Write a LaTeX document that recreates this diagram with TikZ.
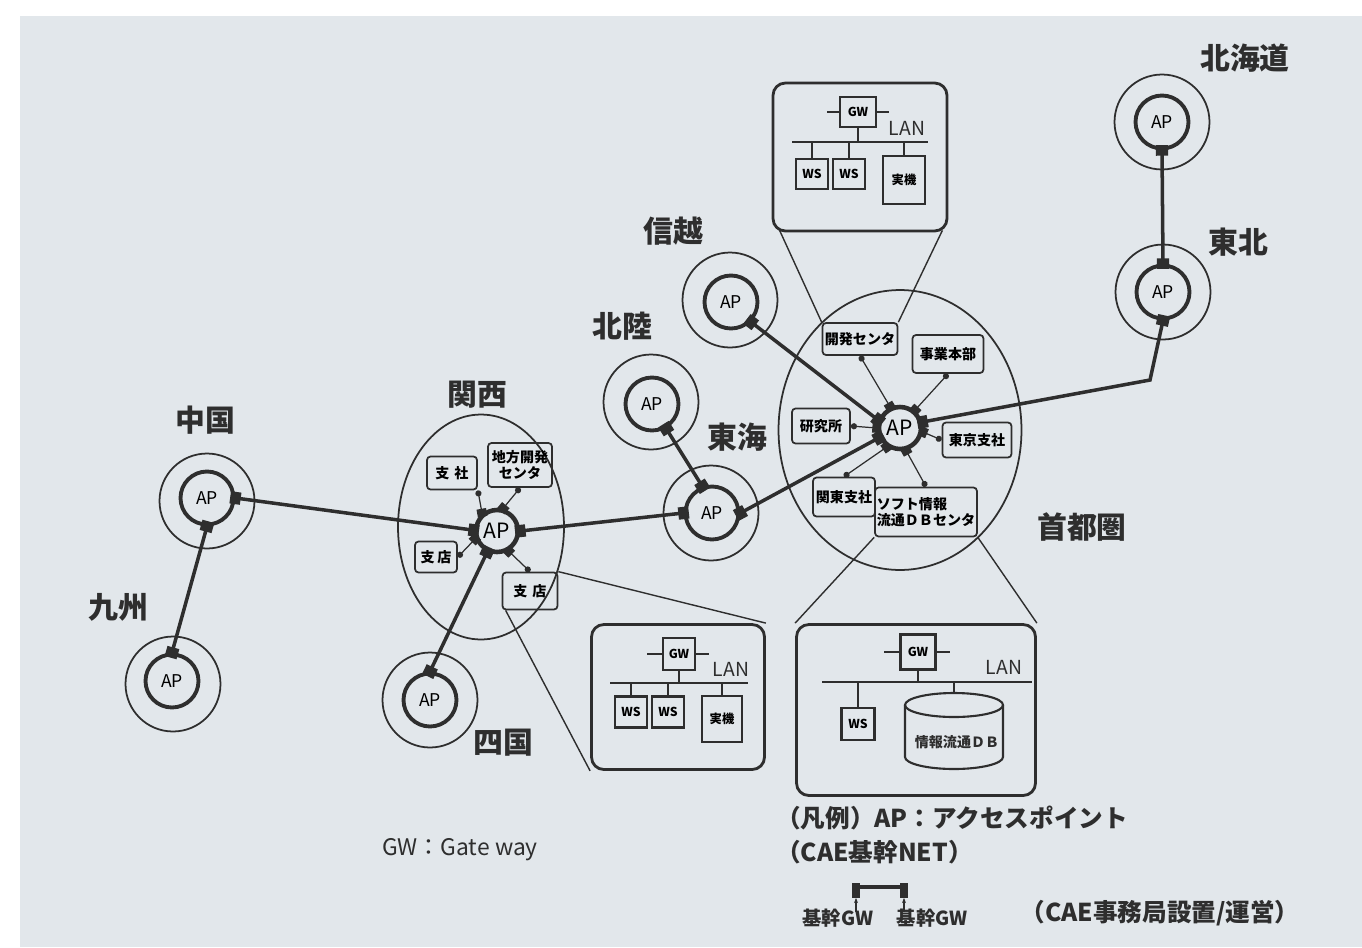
\documentclass[tikz,border=0pt]{standalone}
\usepackage{fontspec}
\setmainfont{Noto Sans CJK JP}
\usetikzlibrary{shapes.geometric, arrows.meta, positioning, calc}
\definecolor{paper}{HTML}{E2E7EB}
\definecolor{inkgray}{HTML}{2E2E2E}

\begin{document}
\begin{tikzpicture}[
  x=0.02cm, y=-0.02cm,
  zone/.style={circle, draw=inkgray, line width=1pt, minimum size=1.9cm, inner sep=0pt},
  apnode/.style={circle, draw=inkgray, line width=2.2pt, minimum size=1.06cm,
                 inner sep=0pt, font=\fontsize{10}{12}\selectfont},
  hubap/.style={circle, draw=inkgray, line width=2.6pt, minimum size=0.84cm,
                inner sep=0pt, font=\fontsize{12}{14}\selectfont},
  area/.style={ellipse, draw=inkgray, line width=1pt, inner sep=0pt},
  region/.style={font=\bfseries\fontsize{17}{19}\selectfont, text=inkgray},
  site/.style={draw=inkgray, rounded corners=2pt, line width=1pt, inner sep=1pt,
               font=\bfseries\fontsize{8}{9.5}\selectfont, align=center},
  link/.style={inkgray, line width=2pt,
               {Square[length=6pt,width=7pt]}-{Square[length=6pt,width=7pt]},
               shorten <=-3pt, shorten >=-3pt},
  tap/.style={inkgray, line width=0.7pt,
              {Square[length=4.5pt,width=5.5pt]}-{Circle[length=3.5pt]}, shorten <=-2pt},
  zoomline/.style={inkgray, line width=0.8pt},
  lanbox/.style={draw=inkgray, rounded corners=7pt, line width=1.6pt, inner sep=0pt},
  unit/.style={draw=inkgray, line width=1.2pt, inner sep=0pt,
               font=\bfseries\fontsize{7}{8}\selectfont},
  bus/.style={inkgray, line width=1.6pt},
  drop/.style={inkgray, line width=0.9pt},
  note/.style={font=\bfseries\fontsize{14}{16}\selectfont, text=inkgray},
]
  % paper
  \fill[white] (0,0) rectangle (1362,947);
  \fill[paper] (20,16) rectangle (1362,947);
  \useasboundingbox (0,0) rectangle (1362,947);

  % regional access points
  \node[zone]   (hokkaido)   at (1162,122) {};
  \node[apnode] (hokkaidoap) at (1162,122) {AP};
  \node[region] (hokkaidolbl) at (1245,58) {北海道};

  \node[zone]   (tohoku)   at (1163,292) {};
  \node[apnode] (tohokuap) at (1163,292) {AP};
  \node[region] (tohokulbl) at (1238,242) {東北};

  \node[zone]   (shinetsu)   at (730,300) {};
  \node[apnode] (shinetsuap) at (731,302) {AP};
  \node[region] (shinetsulbl) at (673,231) {信越};

  \node[zone]   (hokuriku)   at (651,402) {};
  \node[apnode] (hokurikuap) at (652,404) {AP};
  \node[region] (hokurikulbl) at (622,326) {北陸};

  \node[zone]   (tokai)   at (711,513) {};
  \node[apnode] (tokaiap) at (712,513) {AP};
  \node[region] (tokailbl) at (737,437) {東海};

  \node[zone]   (chugoku)   at (207,501) {};
  \node[apnode] (chugokuap) at (207,498) {AP};
  \node[region] (chugokulbl) at (205,420) {中国};

  \node[zone]   (kyushu)   at (173,684) {};
  \node[apnode] (kyushuap) at (172,681) {AP};
  \node[region] (kyushulbl) at (118,607) {九州};

  \node[zone]   (shikoku)   at (430,700) {};
  \node[apnode] (shikokuap) at (430,700) {AP};
  \node[region] (shikokulbl) at (503,743) {四国};

  % 首都圏
  \node[area, minimum width=4.86cm, minimum height=5.6cm] (shuto) at (900,430) {};
  \node[hubap] (shutoap) at (900,428) {AP};
  \node[region] (shutolbl) at (1082,527) {首都圏};
  \node[site, minimum width=1.5cm, minimum height=0.64cm]  (kaihatsu) at (860,339) {開発センタ};
  \node[site, minimum width=1.42cm, minimum height=0.76cm] (jigyo)    at (948,354) {事業本部};
  \node[site, minimum width=1.16cm, minimum height=0.7cm]  (kenkyu)   at (821,426) {研究所};
  \node[site, minimum width=1.38cm, minimum height=0.7cm]  (tokyo)    at (977,440) {東京支社};
  \node[site, minimum width=1.24cm, minimum height=0.78cm] (kanto)    at (844,497) {関東支社};
  \node[site, minimum width=1.74cm, minimum height=0.98cm, align=left] (soft) at (926,512)
    {ソフト情報\\流通ＤＢセンタ};
  \draw[tap] (shutoap.115) -- (kaihatsu.south);
  \draw[tap] (shutoap.50)  -- (jigyo.south);
  \draw[tap] (shutoap.180) -- (kenkyu.east);
  \draw[tap] (shutoap.350) -- (tokyo.west);
  \draw[tap] (shutoap.235) -- (kanto.north);
  \draw[tap] (shutoap.285) -- (soft.north);

  % 関西
  \node[area, minimum width=3.32cm, minimum height=4.5cm] (kansai) at (481,527) {};
  \node[hubap] (kansaiap) at (497,531) {AP};
  \node[region] (kansailbl) at (477,395) {関西};
  \node[site, minimum width=1.0cm, minimum height=0.66cm]  (shisha) at (452,473) {支\hspace{0.35em}社};
  \node[site, minimum width=1.28cm, minimum height=0.88cm] (chiho)  at (520,465) {地方開発\\センタ};
  \node[site, minimum width=0.84cm, minimum height=0.62cm] (shitenl) at (436,557) {支\hspace{0.2em}店};
  \node[site, minimum width=1.1cm, minimum height=0.74cm]  (shitenr) at (530,591) {支\hspace{0.35em}店};
  \draw[tap] (kansaiap.130) -- (shisha.south east);
  \draw[tap] (kansaiap.75)  -- (chiho.south);
  \draw[tap] (kansaiap.200) -- (shitenl.east);
  \draw[tap] (kansaiap.300) -- (shitenr.north);

  % backbone
  \coordinate (tohokubend) at (1150,380);
  \draw[link] (hokkaidoap.south) -- (tohokuap.north);
  \draw[link] (tohokuap.south) -- (tohokubend) -- (shutoap.15);
  \draw[link] (shinetsuap.-45) -- (shutoap.160);
  \draw[link] (tokaiap.east) -- (shutoap.205);
  \draw[link] (hokurikuap.-60) -- (tokaiap.110);
  \draw[link] (kansaiap.east) -- (tokaiap.west);
  \draw[link] (chugokuap.east) -- (kansaiap.178);
  \draw[link] (chugokuap.south) -- (kyushuap.north);
  \draw[link] (kansaiap.245) -- (shikokuap.north);

  % LAN of 開発センタ
  \node[lanbox, minimum width=3.48cm, minimum height=2.96cm] (lantop) at (860,157) {};
  \node[unit, minimum width=0.72cm, minimum height=0.6cm] (gwtop) at (858,112) {GW};
  \draw[drop] (gwtop.west) -- ++(-12,0);
  \draw[drop] (gwtop.east) -- ++(12,0);
  \coordinate (bustopl) at (792,142);
  \coordinate (bustopr) at (928,142);
  \draw[bus] (bustopl) -- (bustopr);
  \node[font=\fontsize{11}{12}\selectfont, text=inkgray] (lantoplbl) at (907,128) {LAN};
  \node[unit, minimum width=0.64cm, minimum height=0.6cm]  (wstopa) at (812,174) {WS};
  \node[unit, minimum width=0.64cm, minimum height=0.6cm]  (wstopb) at (849,174) {WS};
  \node[unit, minimum width=0.84cm, minimum height=0.96cm] (jikitop) at (904,180) {実機};
  \draw[drop] (gwtop.south) -- (gwtop.south |- bustopl);
  \draw[drop] (wstopa.north) -- (wstopa.north |- bustopl);
  \draw[drop] (wstopb.north) -- (wstopb.north |- bustopl);
  \draw[drop] (jikitop.north) -- (jikitop.north |- bustopl);
  \draw[zoomline] (lantop.south west) ++(8,-2) -- (kaihatsu.north west);
  \draw[zoomline] (lantop.south east) ++(-6,-2) -- (kaihatsu.north east);

  % LAN of 支店
  \node[lanbox, minimum width=3.46cm, minimum height=2.9cm] (lanmid) at (678,697) {};
  \node[unit, minimum size=0.64cm] (gwmid) at (679,654) {GW};
  \draw[drop] (gwmid.west) -- ++(-15,0);
  \draw[drop] (gwmid.east) -- ++(13,0);
  \coordinate (busmidl) at (610,683);
  \coordinate (busmidr) at (748,683);
  \draw[bus] (busmidl) -- (busmidr);
  \node[font=\fontsize{11}{12}\selectfont, text=inkgray] (lanmidlbl) at (731,669) {LAN};
  \node[unit, minimum width=0.64cm, minimum height=0.62cm] (wsmida) at (631,712) {WS};
  \node[unit, minimum width=0.64cm, minimum height=0.62cm] (wsmidb) at (668,712) {WS};
  \node[unit, minimum width=0.8cm, minimum height=0.92cm]  (jikimid) at (722,719) {実機};
  \draw[drop] (gwmid.south) -- (gwmid.south |- busmidl);
  \draw[drop] (wsmida.north) -- (wsmida.north |- busmidl);
  \draw[drop] (wsmidb.north) -- (wsmidb.north |- busmidl);
  \draw[drop] (jikimid.north) -- (jikimid.north |- busmidl);
  \draw[zoomline] (shitenr.south west) ++(4,0) -- (lanmid.south west);
  \draw[zoomline] (shitenr.north east) -- (lanmid.north east);

  % LAN of ソフト情報流通DBセンタ
  \node[lanbox, minimum width=4.78cm, minimum height=3.42cm] (lanright) at (916,710) {};
  \node[unit, minimum size=0.7cm] (gwright) at (918,652) {GW};
  \draw[drop] (gwright.west) -- ++(-15,0);
  \draw[drop] (gwright.east) -- ++(13,0);
  \coordinate (busrightl) at (822,682);
  \coordinate (busrightr) at (1032,682);
  \draw[bus] (busrightl) -- (busrightr);
  \node[font=\fontsize{11}{12}\selectfont, text=inkgray] (lanrightlbl) at (1004,667) {LAN};
  \node[unit, minimum width=0.66cm, minimum height=0.64cm] (wsright) at (858,724) {WS};
  % DB drum
  \coordinate (dbtop) at (954,693);
  \draw[inkgray, line width=1.2pt] (905,705) -- (905,757)
    arc[start angle=180, end angle=0, x radius=49, y radius=12] -- (1003,705);
  \draw[inkgray, line width=1.2pt] (954,705) ellipse [x radius=49, y radius=12];
  \node[font=\bfseries\fontsize{8}{9.5}\selectfont, text=inkgray] (dblbl) at (957,742) {情報流通ＤＢ};
  \draw[drop] (gwright.south) -- (gwright.south |- busrightl);
  \draw[drop] (wsright.north) -- (wsright.north |- busrightl);
  \draw[drop] (dbtop) -- (dbtop |- busrightl);
  \draw[zoomline] (soft.south west) -- (lanright.north west);
  \draw[zoomline] (soft.south east) -- (lanright.north east);

  % legend
  \node[note, anchor=west] (legenda) at (770,818) {（凡例）AP：アクセスポイント};
  \node[note, anchor=west] (legendb) at (770,852) {（CAE基幹NET）};
  \node[fill=inkgray, minimum width=0.16cm, minimum height=0.3cm, inner sep=0pt] (gwl) at (856,890) {};
  \node[fill=inkgray, minimum width=0.16cm, minimum height=0.3cm, inner sep=0pt] (gwr) at (904,890) {};
  \draw[inkgray, line width=2.4pt] ($(gwl.east)+(0,-3)$) -- ($(gwr.west)+(0,-3)$);
  \coordinate (gwlfoot) at (856,912);
  \coordinate (gwrfoot) at (904,912);
  \draw[inkgray, line width=0.6pt, -{Stealth[length=3pt]}] (gwlfoot) -- (gwl.south);
  \draw[inkgray, line width=0.6pt, -{Stealth[length=3pt]}] (gwrfoot) -- (gwr.south);
  \node[font=\bfseries\fontsize{11}{13}\selectfont, text=inkgray] (gwllbl) at (838,918) {基幹GW};
  \node[font=\bfseries\fontsize{11}{13}\selectfont, text=inkgray] (gwrlbl) at (932,918) {基幹GW};
  \node[note] (jimu) at (1160,913) {（CAE事務局設置/運営）};
  \node[font=\fontsize{13}{15}\selectfont, text=inkgray] (gwnote) at (460,850) {GW：Gate way};
\end{tikzpicture}
\end{document}
